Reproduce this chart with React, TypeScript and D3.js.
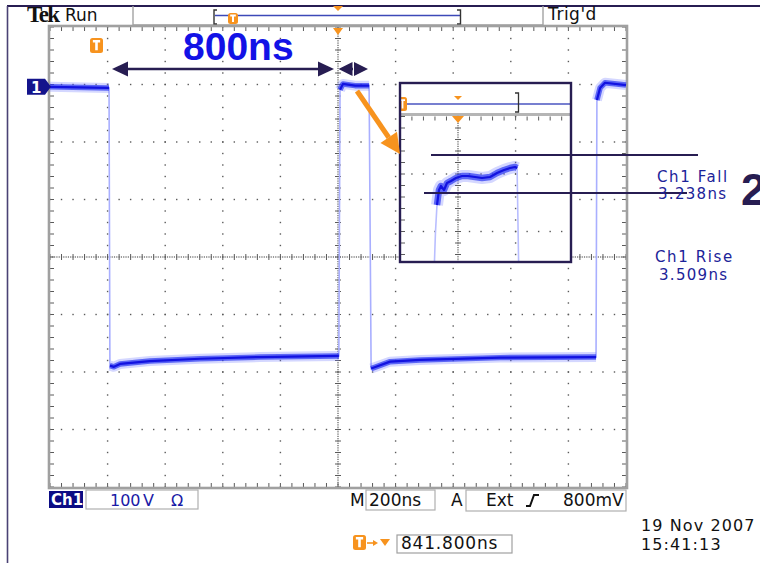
import React from 'react';
import * as d3 from 'd3';

// ---- Scope settings ----
const TIME_PER_DIV = 200; // ns  (M 200ns)
const VOLT_PER_DIV = 100; // V   (Ch1 100 V)
const H_DIVS = 10;
const V_DIVS = 8;
const CH1_OFFSET_DIV = 2.96; // ground marker position above centre

// ---- Main trace (time ns, volts) ----
const traceTimeNs = [0, 201, 205, 208, 222, 243, 347, 521, 729, 997, 1003, 1007, 1017, 1059, 1104, 1108, 1115, 1132, 1181, 1285, 1563, 1889, 1896, 1899, 1910, 1927, 2000];
const traceVolts = [0, -2, -2, -485, -487, -482, -477, -473, -470, -468, -468, -5, 5, 2, 2, 2, -490, -487, -478, -475, -471, -470, -470, -23, -2, 7, 3];

// ---- Zoomed inset trace (inset divisions) ----
const insetTimeDiv = [-0.409, -0.391, -0.365, -0.33, -0.296, -0.243, -0.191, -0.122, -0.035, 0.07, 0.174, 0.296, 0.417, 0.557, 0.678, 0.8, 0.904, 0.991, 1.026, 1.052];
const insetLevelDiv = [-1.53, -1.009, -0.539, -0.278, -0.209, -0.278, -0.157, -0.122, -0.07, -0.035, -0.035, -0.052, -0.07, -0.052, 0.017, 0.07, 0.104, 0.122, 0.104, -1.53];

// ---- Texts ----
const measurementLabels = ['Ch1 Fall', 'Ch1 Rise'];
const measurementValues = ['3.238ns', '3.509ns'];
const spanLabel = '800ns';
const statusTexts = ['Run', "Trig'd"];
const ch1Scale = ['100', 'V', 'Ω'];
const timebase = '200ns';
const triggerTexts = ['Ext', '800mV'];
const triggerPos = '841.800ns';
const dateLines = ['19 Nov 2007', '15:41:13'];

const FONT = '"DejaVu Sans", Verdana, sans-serif';
const ORANGE = '#f7931e';
const NAVY = '#271d52';
const GRIDDOT = '#5a5a5a';

function TIcon({ x, y, w, h }: { x: number; y: number; w: number; h: number }) {
  return (
    <g>
      <rect x={x} y={y} width={w} height={h} rx={2.5} fill={ORANGE} />
      <path d={`M${x + w * 0.22},${y + h * 0.22} H${x + w * 0.78} M${x + w / 2},${y + h * 0.22} V${y + h * 0.82}`} stroke="#fff" strokeWidth={Math.max(1.6, w * 0.2)} fill="none" />
    </g>
  );
}

export default function App() {
  const x = d3.scaleLinear().domain([0, H_DIVS * TIME_PER_DIV]).range([50, 626]);
  const y = d3
    .scaleLinear()
    .domain([(-V_DIVS / 2 - CH1_OFFSET_DIV) * VOLT_PER_DIV, (V_DIVS / 2 - CH1_OFFSET_DIV) * VOLT_PER_DIV])
    .range([487, 27]);
  const X0 = x.range()[0], X1 = x.range()[1];
  const Y0 = y.range()[1], Y1 = y.range()[0];
  const dx = (X1 - X0) / H_DIVS;
  const dy = (Y1 - Y0) / V_DIVS;

  // grid elements
  const dots: JSX.Element[] = [];
  const sub = 5;
  for (let i = 1; i < H_DIVS; i++) {
    const gx = X0 + i * dx;
    if (i === H_DIVS / 2) continue;
    for (let k = 0; k <= V_DIVS * sub; k++) {
      const gy = Y0 + (k * dy) / sub;
      dots.push(<rect key={`v${i}-${k}`} x={gx - 0.7} y={gy - 0.7} width={1.4} height={1.4} fill={GRIDDOT} />);
    }
  }
  for (let j = 1; j < V_DIVS; j++) {
    const gy = Y0 + j * dy;
    if (j === V_DIVS / 2) continue;
    for (let k = 0; k <= H_DIVS * sub; k++) {
      const gx = X0 + (k * dx) / sub;
      dots.push(<rect key={`h${j}-${k}`} x={gx - 0.7} y={gy - 0.7} width={1.4} height={1.4} fill={GRIDDOT} />);
    }
  }
  // centre lines: dense dots + ticks
  const cx = X0 + (H_DIVS / 2) * dx;
  const cy = Y0 + (V_DIVS / 2) * dy;
  for (let k = 0; k <= V_DIVS * 25; k++) {
    const gy = Y0 + (k * dy) / 25;
    dots.push(<rect key={`cv${k}`} x={cx - 0.6} y={gy - 0.6} width={1.2} height={1.2} fill={GRIDDOT} />);
  }
  for (let k = 0; k <= H_DIVS * 25; k++) {
    const gx = X0 + (k * dx) / 25;
    dots.push(<rect key={`ch${k}`} x={gx - 0.6} y={cy - 0.6} width={1.2} height={1.2} fill={GRIDDOT} />);
  }
  const ticks: string[] = [];
  for (let k = 0; k <= V_DIVS * sub; k++) {
    const gy = Y0 + (k * dy) / sub;
    ticks.push(`M${cx - 3},${gy}H${cx + 3}`);
    ticks.push(`M${X0},${gy}H${X0 + 4}`);
    ticks.push(`M${X1},${gy}H${X1 - 4}`);
  }
  for (let k = 0; k <= H_DIVS * sub; k++) {
    const gx = X0 + (k * dx) / sub;
    ticks.push(`M${gx},${cy - 3}V${cy + 3}`);
    ticks.push(`M${gx},${Y0}V${Y0 + 4}`);
    ticks.push(`M${gx},${Y1}V${Y1 - 4}`);
  }

  // trace runs
  const pts: [number, number][] = traceTimeNs.map((t, i) => [x(t), y(traceVolts[i])]);
  const runs: [number, number][][] = [];
  let cur: [number, number][] = [pts[0]];
  for (let i = 1; i < pts.length; i++) {
    if (Math.abs(traceVolts[i] - traceVolts[i - 1]) > 100) {
      if (cur.length > 1) runs.push(cur);
      cur = [pts[i]];
    } else cur.push(pts[i]);
  }
  if (cur.length > 1) runs.push(cur);
  const line = d3.line<[number, number]>();

  // inset
  const IX0 = 400, IX1 = 571, IY0 = 83, IY1 = 262;
  const ix = d3.scaleLinear().domain([0, 1]).range([458, 458 + dx]);
  const iy = d3.scaleLinear().domain([0, -1]).range([174, 174 + dy]);
  const iGridTop = iy(1);
  const ipts: [number, number][] = insetTimeDiv.map((t, i) => [ix(t), iy(insetLevelDiv[i])]);
  const iruns: [number, number][][] = [];
  let icur: [number, number][] = [ipts[0]];
  for (let i = 1; i < ipts.length; i++) {
    if (Math.abs(insetLevelDiv[i] - insetLevelDiv[i - 1]) > 0.3) {
      if (icur.length > 1) iruns.push(icur);
      icur = [ipts[i]];
    } else icur.push(ipts[i]);
  }
  if (icur.length > 1) iruns.push(icur);
  const idots: JSX.Element[] = [];
  [iy(0), iy(-1)].forEach((gy, j) => {
    for (let k = 0; k <= 16; k++) {
      const gx = ix(-1) + (k * dx) / sub;
      if (gx > IX1 - 1) break;
      idots.push(<rect key={`ih${j}-${k}`} x={gx - 0.7} y={gy - 0.7} width={1.4} height={1.4} fill={GRIDDOT} />);
    }
  });
  for (let k = 0; k <= 15; k++) {
    const gy = iGridTop + (k * dy) / sub;
    idots.push(<rect key={`iv1-${k}`} x={ix(1) - 0.7} y={gy - 0.7} width={1.4} height={1.4} fill={GRIDDOT} />);
  }
  for (let k = 0; k <= 80; k++) {
    const gy = iGridTop + (k * dy) / 25;
    if (gy > IY1) break;
    idots.push(<rect key={`iv0-${k}`} x={ix(0) - 0.6} y={gy - 0.6} width={1.2} height={1.2} fill={GRIDDOT} />);
  }
  const iticks: string[] = [];
  for (let k = 0; k <= 16; k++) {
    const gy = iGridTop + (k * dy) / sub;
    if (gy > IY1) break;
    iticks.push(`M${ix(0) - 3},${gy}H${ix(0) + 3}`);
    iticks.push(`M${IX0 + 1},${gy}H${IX0 + 5}`);
  }
  for (let k = 0; k <= 16; k++) {
    const gx = ix(-1) + (k * dx) / sub;
    if (gx > IX1) break;
    iticks.push(`M${gx},${iGridTop}V${iGridTop + 4}`);
  }

  // orange arrow geometry
  const a0: [number, number] = [357, 91];
  const a1: [number, number] = [400, 154];
  const ang = Math.atan2(a1[1] - a0[1], a1[0] - a0[0]);
  const hl = 20, hw = 10;
  const bx = a1[0] - hl * Math.cos(ang), by = a1[1] - hl * Math.sin(ang);
  const head = `M${a1[0]},${a1[1]} L${bx + hw * Math.sin(ang)},${by - hw * Math.cos(ang)} L${bx - hw * Math.sin(ang)},${by + hw * Math.cos(ang)} Z`;

  const arrowY = 69;
  const tri = (tipX: number, dir: number, len: number, hwid: number, yy: number) =>
    `M${tipX},${yy} L${tipX + dir * len},${yy - hwid} L${tipX + dir * len},${yy + hwid} Z`;

  const MEAS = '#1c2399';

  return (
    <svg width={760} height={563} style={{ position: 'fixed', left: 0, top: 0, background: '#fff' }} fontFamily={FONT}>
      <rect x={0} y={0} width={760} height={563} fill="#fff" />
      {/* outer frame */}
      <line x1={7} y1={6} x2={760} y2={6} stroke={NAVY} strokeWidth={2} />
      <line x1={7.5} y1={6} x2={7.5} y2={563} stroke="#4a4274" strokeWidth={1.6} />
      {/* status bar */}
      <path d="M133,6 V25 H543 V6" fill="none" stroke="#a3a3a3" strokeWidth={1.4} />
      <path d="M217,10 H214 V24 H217" fill="none" stroke="#333" strokeWidth={1.4} />
      <line x1={215} y1={15.5} x2={460} y2={15.5} stroke="#3c49b8" strokeWidth={1.5} />
      <path d="M457,10 H460.5 V24 H457" fill="none" stroke="#333" strokeWidth={1.4} />
      <TIcon x={228} y={13} w={10} h={11} />
      <path d="M333,6 H343 L338,11 Z" fill={ORANGE} />
      <text x={27} y={22} fontFamily='"Liberation Serif", serif' fontWeight="bold" fontSize={23} letterSpacing={-1.6} fill="#111">Tek</text>
      <text x={65} y={21} fontSize={17} fill="#111">{statusTexts[0]}</text>
      <text x={548} y={20} fontSize={17} letterSpacing={0.5} fill="#111">{statusTexts[1]}</text>

      {/* graticule */}
      <g>{dots}</g>
      <path d={ticks.join('')} stroke={GRIDDOT} strokeWidth={1} />
      <rect x={X0 - 1} y={Y0 - 1} width={X1 - X0 + 2} height={Y1 - Y0 + 2} fill="none" stroke="#a0a0a0" strokeWidth={2.6} />

      {/* main trace */}
      <path d={line(pts) || ''} fill="none" stroke="#a9afff" strokeWidth={1.6} />
      {runs.map((r, i) => (
        <g key={i}>
          <path d={line(r) || ''} fill="none" stroke="#6f7bff" strokeOpacity={0.3} strokeWidth={10} strokeLinejoin="round" />
          <path d={line(r) || ''} fill="none" stroke="#2a36f2" strokeOpacity={0.7} strokeWidth={5.5} strokeLinejoin="round" />
          <path d={line(r) || ''} fill="none" stroke="#1212e0" strokeWidth={2.2} strokeLinejoin="round" />
        </g>
      ))}

      {/* markers */}
      <path d="M338,28 H333 L338,35 L343,28 Z" fill={ORANGE} />
      <TIcon x={90} y={38} w={13} h={15} />
      <path d={`M27,${y(0) - 8} H45 L51,${y(0)} L45,${y(0) + 8} H27 Z`} fill="#14148c" />
      <text x={31} y={y(0) + 6} fontSize={15} fontWeight="bold" fill="#fff">1</text>

      {/* 800ns arrow */}
      <line x1={124} y1={arrowY} x2={322} y2={arrowY} stroke={NAVY} strokeWidth={2.6} />
      <path d={tri(112, 1, 16, 7.5, arrowY)} fill={NAVY} />
      <path d={tri(334, -1, 16, 7.5, arrowY)} fill={NAVY} />
      <path d={tri(338.5, 1, 14, 7, arrowY)} fill={NAVY} />
      <path d={tri(368, -1, 14, 7, arrowY)} fill={NAVY} />
      <line x1={352} y1={arrowY} x2={355} y2={arrowY} stroke={NAVY} strokeWidth={2.5} />
      <line x1={353.5} y1={arrowY - 7} x2={353.5} y2={arrowY + 7} stroke="#fff" strokeWidth={1} />
      <text x={183} y={60} fontFamily='"Liberation Sans", Arial, sans-serif' fontWeight="bold" fontSize={39} fill="#1212e6">{spanLabel}</text>

      {/* inset */}
      <rect x={IX0} y={IY0} width={IX1 - IX0} height={IY1 - IY0} fill="#fff" />
      <g clipPath="url(#insetClip)">
        <line x1={IX0} y1={104} x2={IX1} y2={104} stroke="#4a55c0" strokeWidth={1.5} />
        <TIcon x={398} y={97} w={9} h={14} />
        <path d="M515,93 H518.5 V112 H515" fill="none" stroke="#333" strokeWidth={1.3} />
        <path d="M454,96 H462 L458,100 Z" fill={ORANGE} />
        <rect x={IX0} y={113} width={IX1 - IX0} height={3} fill="#b5b5b5" />
        <g>{idots}</g>
        <path d={iticks.join('')} stroke={GRIDDOT} strokeWidth={1} />
        <path d="M452,116 H464 L458,123 Z" fill={ORANGE} />
        <path d={line(ipts) || ''} fill="none" stroke="#b9beff" strokeWidth={1.6} />
        {iruns.map((r, i) => (
          <g key={i}>
            <path d={line(r) || ''} fill="none" stroke="#6f7bff" strokeOpacity={0.3} strokeWidth={12} strokeLinejoin="round" />
            <path d={line(r) || ''} fill="none" stroke="#2a36f2" strokeOpacity={0.7} strokeWidth={6.5} strokeLinejoin="round" />
            <path d={line(r) || ''} fill="none" stroke="#1212e0" strokeWidth={2.2} strokeLinejoin="round" />
          </g>
        ))}
      </g>
      <defs>
        <clipPath id="insetClip">
          <rect x={IX0} y={IY0} width={IX1 - IX0} height={IY1 - IY0} />
        </clipPath>
      </defs>
      <rect x={IX0} y={IY0} width={IX1 - IX0} height={IY1 - IY0} fill="none" stroke={NAVY} strokeWidth={2.4} />

      {/* orange arrow */}
      <line x1={a0[0]} y1={a0[1]} x2={bx} y2={by} stroke={ORANGE} strokeWidth={5} />
      <path d={head} fill={ORANGE} />

      {/* cursor lines */}
      <line x1={431} y1={155} x2={698} y2={155} stroke={NAVY} strokeWidth={2} />
      <line x1={424} y1={193} x2={687} y2={193} stroke={NAVY} strokeWidth={2} />

      {/* measurements */}
      <text x={657} y={182} fontSize={15} letterSpacing={1.6} fill={MEAS}>{measurementLabels[0]}</text>
      <text x={658} y={199} fontSize={15} letterSpacing={1.3} fill={MEAS}>{measurementValues[0]}</text>
      <text x={655} y={262} fontSize={15} letterSpacing={1.6} fill={MEAS}>{measurementLabels[1]}</text>
      <text x={659} y={280} fontSize={15} letterSpacing={1.3} fill={MEAS}>{measurementValues[1]}</text>
      <text x={741} y={205} fontFamily='"Liberation Sans", Arial, sans-serif' fontWeight="bold" fontSize={45} fill={NAVY}>2</text>

      {/* bottom readouts */}
      <rect x={49} y={491} width={34} height={17} fill="#0c0c84" />
      <text x={51} y={505} fontSize={15} fontWeight="bold" fill="#fff">Ch1</text>
      <rect x={86} y={490} width={112} height={19} fill="none" stroke="#b0b0b0" strokeWidth={1.2} />
      <text x={110} y={506} fontSize={16} fill="#1a1aa6">{ch1Scale[0]}</text>
      <text x={143} y={506} fontSize={16} fill="#1a1aa6">{ch1Scale[1]}</text>
      <text x={171} y={506} fontSize={16} fill="#1a1aa6">{ch1Scale[2]}</text>
      <text x={350} y={506} fontSize={17} fill="#111">M</text>
      <rect x={366} y={490} width={69} height={20} fill="none" stroke="#b0b0b0" strokeWidth={1.2} />
      <text x={369} y={506} fontSize={17} fill="#111">{timebase}</text>
      <text x={451} y={506} fontSize={17} fill="#111">A</text>
      <rect x={466} y={490} width={160} height={21} fill="none" stroke="#b0b0b0" strokeWidth={1.2} />
      <text x={486} y={506} fontSize={17} fill="#111">{triggerTexts[0]}</text>
      <path d="M526,506 H530 L534,495 H539" fill="none" stroke="#111" strokeWidth={2} />
      <text x={563} y={506} fontSize={17} fill="#111">{triggerTexts[1]}</text>

      <TIcon x={353} y={535} w={13} h={15} />
      <line x1={367} y1={543} x2={374} y2={543} stroke={ORANGE} strokeWidth={1.6} />
      <path d="M378,543 L373,540 L373,546 Z" fill={ORANGE} />
      <path d="M380,539 H390 L385,546 Z" fill={ORANGE} />
      <rect x={397} y={535} width={115} height={18} fill="none" stroke="#a0a0a0" strokeWidth={1.2} />
      <text x={401} y={549} fontSize={17} letterSpacing={0.8} fill="#111">{triggerPos}</text>
      <text x={641} y={531} fontSize={16} letterSpacing={1.1} fill="#111">{dateLines[0]}</text>
      <text x={641} y={550} fontSize={16} letterSpacing={1.1} fill="#111">{dateLines[1]}</text>
    </svg>
  );
}
